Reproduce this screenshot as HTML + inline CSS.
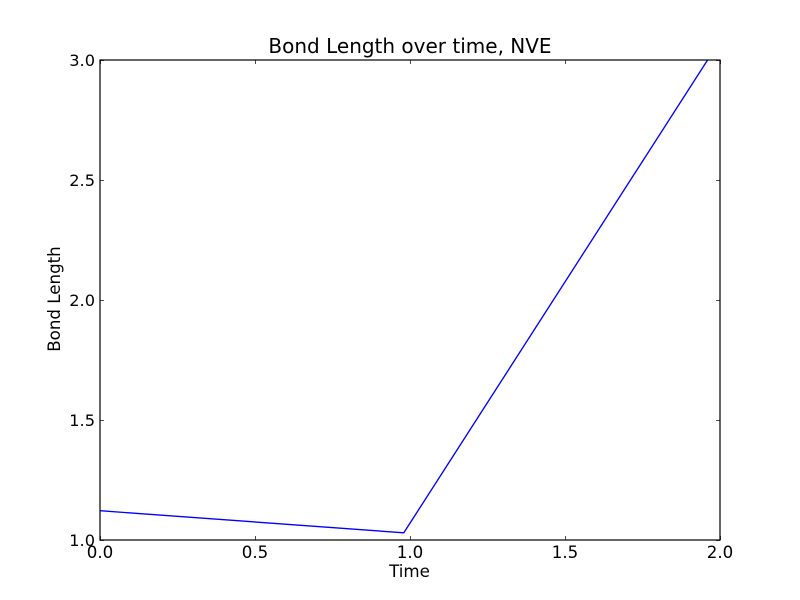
<!DOCTYPE html>
<html>
<head>
<meta charset="utf-8">
<title>Bond Length over time, NVE</title>
<style>
html,body{margin:0;padding:0;background:#fff;}
svg{display:block;}
text{font-family:"DejaVu Sans","Liberation Sans",sans-serif;fill:#000;}
</style>
</head>
<body>
<svg id="chart" xmlns="http://www.w3.org/2000/svg" width="800" height="600" viewBox="0 0 800 600">
  <rect x="0" y="0" width="800" height="600" fill="#fff"/>
  <text x="410" y="53" font-size="20" text-anchor="middle">Bond Length over time, NVE</text>
  <text x="409.5" y="577" font-size="16.67" text-anchor="middle">Time</text>
  <text x="0" y="0" font-size="16.67" text-anchor="middle" transform="translate(60,299) rotate(-90)">Bond Length</text>
  <g id="plot"></g>
</svg>
<script>
var timeValues = [0, 0.98, 1.96];
var bondLengthValues = [1.122, 1.03, 3.0];
var xTickValues = [0, 0.5, 1.0, 1.5, 2.0];
var yTickValues = [1.0, 1.5, 2.0, 2.5, 3.0];
var xTickLabels = ['0.0', '0.5', '1.0', '1.5', '2.0'];
var yTickLabels = ['1.0', '1.5', '2.0', '2.5', '3.0'];

var NS = 'http://www.w3.org/2000/svg';
var LEFT = 100, RIGHT = 720, TOP = 60, BOTTOM = 540;
var plot = document.getElementById('plot');

function xScale(v) { return LEFT + (v - 0) / (2 - 0) * (RIGHT - LEFT); }
function yScale(v) { return BOTTOM - (v - 1) / (3 - 1) * (BOTTOM - TOP); }

function make(tag, attrs) {
  var el = document.createElementNS(NS, tag);
  for (var k in attrs) { el.setAttribute(k, attrs[k]); }
  plot.appendChild(el);
  return el;
}

var defs = document.createElementNS(NS, 'defs');
var clip = document.createElementNS(NS, 'clipPath');
clip.setAttribute('id', 'plot-clip');
var clipRect = document.createElementNS(NS, 'rect');
clipRect.setAttribute('x', LEFT);
clipRect.setAttribute('y', TOP);
clipRect.setAttribute('width', RIGHT - LEFT);
clipRect.setAttribute('height', BOTTOM - TOP);
clip.appendChild(clipRect);
defs.appendChild(clip);
plot.appendChild(defs);

var pts = timeValues.map(function (t, i) {
  return xScale(t).toFixed(2) + ',' + yScale(bondLengthValues[i]).toFixed(2);
}).join(' ');
var line = make('polyline', { points: pts, fill: 'none', stroke: '#0000ff', 'stroke-width': 1.35, 'clip-path': 'url(#plot-clip)' });



var frame = make('rect', { x: LEFT, y: TOP, width: RIGHT - LEFT, height: BOTTOM - TOP, fill: 'none', stroke: '#000', 'stroke-width': 1.2 });



xTickValues.forEach(function (v, i) {
  var x = Math.round(xScale(v)) + 0.5;
  var t1 = make('line', { x1: x, x2: x, y1: BOTTOM, y2: BOTTOM - 4, stroke: '#000', 'stroke-width': 0.7 });
  
  
  var t2 = make('line', { x1: x, x2: x, y1: TOP, y2: TOP + 4, stroke: '#000', 'stroke-width': 0.7 });
  
  
  var lab = make('text', { x: xScale(v), y: 558, 'font-size': 16.67, 'text-anchor': 'middle' });
  lab.textContent = xTickLabels[i];
  
  
});

yTickValues.forEach(function (v, i) {
  var y = Math.round(yScale(v)) + 0.5;
  var t1 = make('line', { x1: LEFT, x2: LEFT + 4, y1: y, y2: y, stroke: '#000', 'stroke-width': 0.7 });
  
  
  var t2 = make('line', { x1: RIGHT, x2: RIGHT - 4, y1: y, y2: y, stroke: '#000', 'stroke-width': 0.7 });
  
  
  var lab = make('text', { x: 95, y: yScale(v) + 6, 'font-size': 16.2, 'text-anchor': 'end' });
  lab.textContent = yTickLabels[i];
  
  
});
</script>
</body>
</html>
